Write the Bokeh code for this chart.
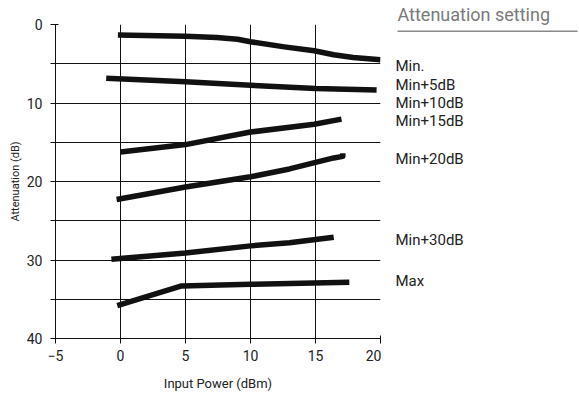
from bokeh.plotting import figure
from bokeh.layouts import row
from bokeh.models import Range1d, FixedTicker
from bokeh.core.properties import value
from bokeh.embed import file_html
from bokeh.resources import INLINE

# ---- data ----
x_min = [-0.2, 5, 7.4, 9, 10, 12.6, 14.9, 16.4, 17.9, 20]
y_min = [1.35, 1.5, 1.66, 1.88, 2.2, 2.85, 3.35, 3.85, 4.2, 4.5]

x_min5 = [-1.1, 5, 10, 15, 19.7]
y_min5 = [6.85, 7.3, 7.75, 8.15, 8.35]

x_min15 = [0, 5, 10, 14.9, 17]
y_min15 = [16.25, 15.3, 13.7, 12.7, 12.05]

x_min20 = [-0.3, 5, 10, 13, 16.4, 17.1, 17.1]
y_min20 = [22.3, 20.7, 19.4, 18.4, 17.0, 16.8, 16.4]

x_min30 = [-0.7, 5, 10, 13, 16.4]
y_min30 = [29.9, 29.1, 28.2, 27.8, 27.1]

x_max = [-0.25, 4.7, 10, 17.6]
y_max = [35.8, 33.3, 33.1, 32.85]

series_x = [x_min, x_min5, x_min15, x_min20, x_min30, x_max]
series_y = [y_min, y_min5, y_min15, y_min20, y_min30, y_max]

label_names = ["Min.", "Min+5dB", "Min+10dB", "Min+15dB", "Min+20dB", "Min+30dB", "Max"]
label_y = [5.35, 7.68, 9.98, 12.3, 17.13, 27.43, 32.68]

x_ticks = [-5, 0, 5, 10, 15, 20]
y_ticks = [0, 5, 10, 15, 20, 25, 30, 35, 40]
y_tick_labels = {0: "0", 5: "", 10: "10", 15: "", 20: "20", 25: "", 30: "30", 35: "", 40: "40"}

legend_title = "Attenuation setting"
x_title = "Input Power (dBm)"
y_title = "Attenuation (dB)"

# ---- geometry ----
FONT = "Roboto"
X0, X1 = -5, 20
Y_TOP, Y_BOT = 0, 40
LEFT, TOP, BOTTOM = 55, 24, 58
PLOT_H = 396
FRAME_W = 325
PX_X = FRAME_W / (X1 - X0)               # px per x unit
PX_Y = (PLOT_H - TOP - BOTTOM) / (Y_BOT - Y_TOP)
MAIN_W = LEFT + FRAME_W + 1
SIDE_W = 579 - MAIN_W

p = figure(width=MAIN_W, height=PLOT_H, output_backend="svg", toolbar_location=None,
           x_range=Range1d(X0, X1), y_range=Range1d(Y_BOT, Y_TOP),
           min_border_left=LEFT, min_border_right=1, min_border_top=TOP,
           min_border_bottom=BOTTOM)
p.outline_line_color = None

for ax in (p.xaxis[0], p.yaxis[0]):
    ax.axis_line_color = "#111111"
    ax.axis_line_width = 1
    ax.major_tick_line_color = "#111111"
    ax.major_tick_in = 3
    ax.major_tick_out = 5
    ax.minor_tick_line_color = None
    ax.major_label_text_font = FONT
    ax.major_label_text_font_size = "14px"
    ax.major_label_text_color = "#222222"
    ax.axis_label_text_font = FONT
    ax.axis_label_text_font_style = "normal"
    ax.axis_label_text_color = "#222222"

p.xaxis.ticker = FixedTicker(ticks=x_ticks)
p.yaxis.ticker = FixedTicker(ticks=y_ticks)
p.yaxis.major_label_overrides = y_tick_labels
p.xaxis.major_label_standoff = 6
p.yaxis.major_label_standoff = 8

p.xaxis.axis_label = x_title
p.xaxis.axis_label_text_font_size = "13px"
p.xaxis.axis_label_standoff = 12
p.yaxis.axis_label = y_title
p.yaxis.axis_label_text_font_size = "11px"
p.yaxis.axis_label_standoff = 2

p.xgrid.ticker = FixedTicker(ticks=x_ticks)
p.ygrid.ticker = FixedTicker(ticks=y_ticks)
for g in (p.xgrid[0], p.ygrid[0]):
    g.grid_line_color = "#111111"
    g.grid_line_width = 1

for xs, ys in zip(series_x, series_y):
    p.line(xs, ys, line_color="#111111", line_width=5.5, line_cap="butt", line_join="round")

# ---- right-hand panel with the setting labels, same vertical scale ----
sx0 = X1 + 1 / PX_X
sx1 = sx0 + SIDE_W / PX_X
side = figure(width=SIDE_W, height=PLOT_H, output_backend="svg", toolbar_location=None,
              x_range=Range1d(sx0, sx1), y_range=Range1d(Y_BOT, Y_TOP),
              x_axis_location=None, y_axis_location=None, title=legend_title,
              min_border_left=0, min_border_right=0, min_border_top=TOP,
              min_border_bottom=BOTTOM)
side.outline_line_color = None
side.grid.visible = False
side.title.text_font = FONT
side.title.text_font_size = "18px"
side.title.text_font_style = "normal"
side.title.text_color = "#7a7a7a"
side.title.text_line_height = 1.0
side.title.align = "left"
side.title.offset = 16
side.title.standoff = 0

# underline of the panel title, drawn as a thin filled bar
ul_y = Y_TOP + 6.7 / PX_Y
side.quad(left=[X1 + 17 / PX_X], right=[X1 + 197 / PX_X],
          top=[ul_y - 0.7 / PX_Y], bottom=[ul_y + 0.7 / PX_Y],
          fill_color="#8a8a8a", line_color=None)

label_x = [X1 + 15 / PX_X] * len(label_names)
side.text(label_x, label_y, text=label_names, text_align="left", text_baseline="alphabetic",
          text_font=value(FONT), text_font_size=value("15px"), text_color="#222222")

layout = row(p, side, spacing=0)
open("out.html", "w").write(file_html(layout, INLINE))
